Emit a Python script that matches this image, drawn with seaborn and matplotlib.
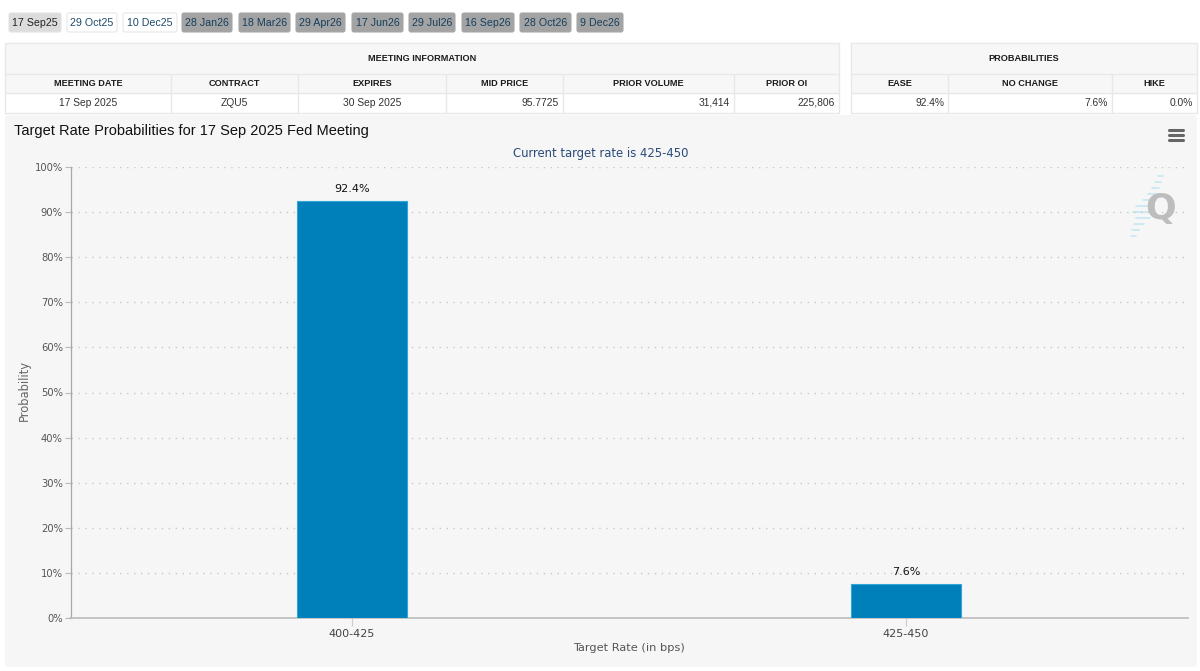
import matplotlib
matplotlib.use("Agg")
import matplotlib.pyplot as plt
from matplotlib.patches import Rectangle, FancyBboxPatch
from matplotlib.lines import Line2D
import seaborn as sns
import pandas as pd

target_rates = ["400-425", "425-450"]
probabilities = [92.4, 7.6]
y_ticks = list(range(0, 101, 10))
tab_labels = ["17 Sep25", "29 Oct25", "10 Dec25", "28 Jan26", "18 Mar26", "29 Apr26",
              "17 Jun26", "29 Jul26", "16 Sep26", "28 Oct26", "9 Dec26"]
info_headers = ["MEETING DATE", "CONTRACT", "EXPIRES", "MID PRICE", "PRIOR VOLUME", "PRIOR OI"]
info_values = ["17 Sep 2025", "ZQU5", "30 Sep 2025", "95.7725", "31,414", "225,806"]
prob_headers = ["EASE", "NO CHANGE", "HIKE"]
prob_values = ["92.4%", "7.6%", "0.0%"]

W, H = 1200, 671
sns.set_theme(style="white")
plt.rcParams["font.family"] = ["Liberation Sans", "DejaVu Sans"]

fig = plt.figure(figsize=(W / 100, H / 100), dpi=100, facecolor="white")
bg = fig.add_axes([0, 0, 1, 1], zorder=0)
bg.set_xlim(0, W)
bg.set_ylim(H, 0)
bg.axis("off")

# tabs
tab_x = [(8, 62), (66, 118), (122, 178), (181, 233), (238, 291), (295, 346),
         (351, 404), (408, 456), (461, 515), (519, 572), (576, 624)]
for i, (lab, (a, b)) in enumerate(zip(tab_labels, tab_x)):
    if i == 0:
        fc, ec, tc = "#dcdcdc", "#e4e4e4", "#222222"
    elif i < 3:
        fc, ec, tc = "#ffffff", "#e6e6e6", "#1d4a6b"
    else:
        fc, ec, tc = "#a3a3a3", "#a8a8a8", "#153f5e"
    bg.add_patch(FancyBboxPatch((a + 1, 13), b - a - 2, 19, boxstyle="round,pad=0,rounding_size=2",
                                fc=fc, ec=ec, lw=0.8))
    bg.text((a + b) / 2, 22.5, lab, ha="center", va="center", fontsize=7.7, color=tc)


def table(edges, title, headers, values, aligns):
    y0, y1, y2, y3 = 43, 73.5, 92.5, 112.5
    left, right = edges[0], edges[-1]
    bg.add_patch(Rectangle((left, y0), right - left, y2 - y0, fc="#f7f7f7", ec="none"))
    bg.add_patch(Rectangle((left, y2), right - left, y3 - y2, fc="#ffffff", ec="none"))
    line = "#e8e8e8"
    for y in (y0, y1, y2, y3):
        bg.add_line(Line2D([left, right], [y, y], color=line, lw=1))
    for x in edges:
        bg.add_line(Line2D([x, x], [y1 if x not in (left, right) else y0, y3], color=line, lw=1))
    bg.text((left + right) / 2, 58.5, title, ha="center", va="center", fontsize=6.6,
            fontweight="bold", color="#1c1c1c")
    for i, (h, v, al) in enumerate(zip(headers, values, aligns)):
        a, b = edges[i], edges[i + 1]
        bg.text((a + b) / 2, 83, h, ha="center", va="center", fontsize=6.6,
                fontweight="bold", color="#1c1c1c")
        if al == "center":
            bg.text((a + b) / 2, 102.5, v, ha="center", va="center", fontsize=7.4, color="#333333")
        else:
            bg.text(b - 4, 102.5, v, ha="right", va="center", fontsize=7.4, color="#333333")


table([5, 171, 298, 446, 563, 734, 839], "MEETING INFORMATION", info_headers, info_values,
      ["center", "center", "center", "right", "right", "right"])
table([851, 948, 1112, 1197], "PROBABILITIES", prob_headers, prob_values, ["right", "right", "right"])

# chart panel
bg.add_patch(FancyBboxPatch((5, 115), 1192, 552, boxstyle="round,pad=0,rounding_size=4",
                            fc="#f6f6f6", ec="none"))
bg.text(14, 131.5, "Target Rate Probabilities for 17 Sep 2025 Fed Meeting", ha="left", va="center",
        fontsize=10.5, color="#111111")
bg.text(601, 153, "Current target rate is 425-450", ha="center", va="center",
        fontsize=8.4, color="#2a4a7a", family="DejaVu Sans")
for y in (130, 135, 140):
    bg.add_line(Line2D([1169, 1183], [y, y], color="#666666", lw=2.2, solid_capstyle="round"))

# plot axes
ax_l, ax_r, ax_t, ax_b = 70.5, 1187.5, 167, 618
ax = fig.add_axes([ax_l / W, 1 - ax_b / H, (ax_r - ax_l) / W, (ax_b - ax_t) / H], zorder=2)
ax.patch.set_alpha(0)

# logo watermark behind the bars
for y, a, b in [(176, 1158, 1163), (182, 1155, 1161), (188, 1152, 1159), (194, 1148, 1157),
                (200, 1143, 1156), (206, 1136, 1154), (212, 1133, 1152), (218, 1136, 1150),
                (224, 1134, 1144), (230, 1132, 1139), (236, 1131, 1136)]:
    bg.add_line(Line2D([a, b], [y, y], color="#c5e8f2", lw=1.2))
bg.text(1161, 209, "Q", ha="center", va="center", fontsize=26, fontweight="bold",
        color="#bdbdbd", family="DejaVu Sans")

df = pd.DataFrame({"rate": target_rates, "prob": probabilities})
sns.barplot(data=df, x="rate", y="prob", ax=ax, color="#0080bb", saturation=1, width=0.2,
            edgecolor="#2fa6d8", linewidth=0.8, zorder=3)
ax.set_xlim(-0.508, 1.508)
ax.set_ylim(0, 100)
ax.set_yticks(y_ticks)
ax.set_yticklabels([f"{v}%" for v in y_ticks], family="DejaVu Sans", fontsize=7.2, color="#555555")
ax.tick_params(axis="y", length=4.5, width=0.8, color="#bbbbbb", pad=1, left=True)
ax.tick_params(axis="x", length=6, width=0.8, color="#cccccc", pad=2, bottom=True)
for t in ax.get_xticklabels():
    t.set_family("DejaVu Sans")
    t.set_fontsize(8)
    t.set_color("#444444")
ax.yaxis.grid(True, linestyle=(0, (1, 4)), color="#c8c8c8", linewidth=1)
ax.set_axisbelow(True)
ax.set_xlabel("Target Rate (in bps)", family="DejaVu Sans", fontsize=8.2, color="#555555", labelpad=3)
ax.set_ylabel("Probability", family="DejaVu Sans", fontsize=8.3, color="#666666")
ax.yaxis.set_label_coords((31 - ax_l) / (ax_r - ax_l), 0.505)
for s in ("top", "right"):
    ax.spines[s].set_visible(False)
ax.spines["left"].set_color("#a8a8a8")
ax.spines["left"].set_linewidth(0.9)
ax.spines["bottom"].set_color("#bcbcbc")
ax.spines["bottom"].set_linewidth(1.2)
for c in ax.containers:
    ax.bar_label(c, labels=[f"{v}%" for v in probabilities], padding=5, fontsize=8,
                 family="DejaVu Sans", color="#111111")

fig.savefig("out.png", dpi=100, facecolor="white")
